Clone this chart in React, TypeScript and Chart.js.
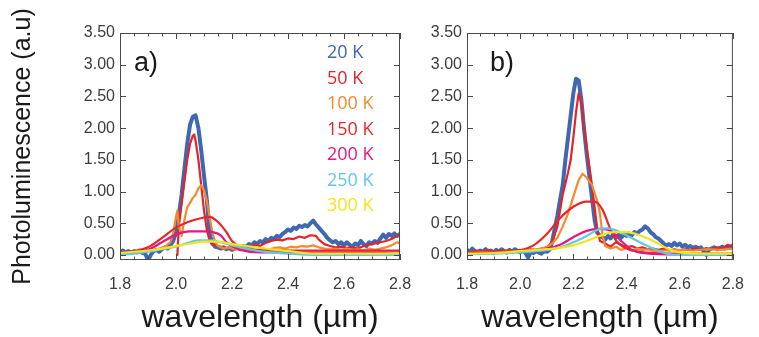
import React, { useEffect, useRef } from "react";
import { Chart, registerables } from "chart.js";
Chart.register(...registerables);

// ---------- labels / ticks ----------
const TEMPS = ["20 K", "50 K", "100 K", "150 K", "200 K", "250 K", "300 K"];
const COLORS = ["#3f67b2", "#e3242b", "#f5892f", "#e8262a", "#e6187d", "#62c7e7", "#f3e51d"];
const X_TICKS = [1.8, 2.0, 2.2, 2.4, 2.6, 2.8];
const Y_TICKS = [0, 0.5, 1.0, 1.5, 2.0, 2.5, 3.0, 3.5];
const Y_TITLE = "Photoluminescence (a.u)";
const X_TITLE = "wavelength (µm)";

// sampling grid of the measured (noisy) scans: 1.80 .. 2.80 every 0.01
const grid = (start: number, step: number, n: number) =>
  Array.from({ length: n }, (_, i) => +(start + i * step).toFixed(3));
const SCAN_WL = grid(1.8, 0.01, 101);

// ---------- panel a ----------
const A_20K = [
  0.05, 0.07, 0.04, 0.06, 0.03, 0.06, 0.04, 0.07, 0.03, 0.02,
  -0.08, 0.0, 0.06, 0.08, 0.05, 0.09, 0.12, 0.1, 0.15, 0.22,
  0.35, 0.62, 0.95, 1.35, 1.75, 2.05, 2.18, 2.2, 2.0, 1.65,
  1.25, 0.87, 0.34, 0.18, 0.13, 0.12, 0.1, 0.12, 0.09, 0.11,
  0.08, 0.1, 0.12, 0.09, 0.14, 0.12, 0.17, 0.15, 0.2, 0.17,
  0.22, 0.2, 0.25, 0.22, 0.27, 0.25, 0.3, 0.28, 0.33, 0.36,
  0.4, 0.38, 0.43, 0.41, 0.46, 0.44, 0.47, 0.45, 0.5, 0.54,
  0.48, 0.43, 0.38, 0.33, 0.27, 0.23, 0.2, 0.22, 0.17, 0.2,
  0.15, 0.2, 0.16, 0.13, 0.18, 0.15, 0.22, 0.17, 0.14, 0.2,
  0.18, 0.22, 0.19, 0.26, 0.32, 0.27, 0.33, 0.3, 0.34, 0.3,
  0.33,
];
const A_50K_WL = [
  2.005, 2.01, 2.02, 2.03, 2.04, 2.05, 2.06, 2.065, 2.07, 2.08,
  2.09, 2.1, 2.11, 2.12, 2.13, 2.15, 2.17, 2.2, 2.22, 2.24,
  2.26, 2.28, 2.3, 2.32, 2.34, 2.36, 2.38, 2.4, 2.42, 2.44,
  2.46, 2.48, 2.5, 2.51, 2.53, 2.55, 2.57, 2.59, 2.61, 2.63,
  2.65, 2.67, 2.69, 2.71, 2.73, 2.75, 2.77, 2.79, 2.8,
];
const A_50K = [
  0.0, 0.45, 0.8, 1.15, 1.5, 1.75, 1.88, 1.9, 1.8, 1.5,
  1.1, 0.7, 0.4, 0.22, 0.16, 0.14, 0.12, 0.1, 0.11, 0.09,
  0.12, 0.16, 0.14, 0.19, 0.22, 0.24, 0.23, 0.26, 0.25, 0.29,
  0.27, 0.31, 0.3, 0.24, 0.17, 0.14, 0.12, 0.13, 0.11, 0.12,
  0.1, 0.14, 0.16, 0.18, 0.2, 0.22, 0.25, 0.3, 0.32,
];
const A_100K_WL = [
  1.8, 1.82, 1.84, 1.86, 1.88, 1.9, 1.92, 1.94, 1.96, 1.98,
  1.99, 2.0, 2.005, 2.01, 2.02, 2.03, 2.04, 2.05, 2.06, 2.07,
  2.08, 2.09, 2.1, 2.11, 2.12, 2.13, 2.14, 2.15, 2.17, 2.19,
  2.21, 2.23, 2.25, 2.27, 2.29, 2.31, 2.33, 2.35, 2.37, 2.39,
  2.41, 2.43, 2.45, 2.47, 2.49, 2.51, 2.53, 2.55, 2.57, 2.59,
  2.61, 2.63, 2.65, 2.67, 2.69, 2.71, 2.73, 2.75, 2.77, 2.79,
  2.8,
];
const A_100K = [
  0.02, 0.04, 0.03, 0.05, 0.04, 0.07, 0.06, 0.1, 0.13, 0.2,
  0.35, 0.6, 0.7, 0.45, 0.3, 0.55, 0.75, 0.82, 0.9, 0.95,
  1.05, 1.1, 1.02, 0.85, 0.6, 0.35, 0.2, 0.14, 0.1, 0.12,
  0.08, 0.1, 0.07, 0.09, 0.08, 0.1, 0.08, 0.11, 0.12, 0.1,
  0.13, 0.12, 0.14, 0.13, 0.15, 0.12, 0.1, 0.09, 0.1, 0.08,
  0.1, 0.08, 0.09, 0.07, 0.1, 0.08, 0.1, 0.12, 0.15, 0.2,
  0.18,
];
const A_150K_WL = [1.8, 1.85, 1.9, 1.95, 2.0, 2.05, 2.1, 2.12, 2.15, 2.18, 2.2, 2.25, 2.3, 2.4, 2.5, 2.6, 2.7, 2.8];
const A_150K = [0.03, 0.06, 0.12, 0.27, 0.43, 0.53, 0.59, 0.6, 0.52, 0.36, 0.22, 0.1, 0.08, 0.07, 0.07, 0.07, 0.07, 0.07];
const A_200K_WL = [1.8, 1.85, 1.9, 1.95, 2.0, 2.05, 2.1, 2.13, 2.16, 2.18, 2.2, 2.23, 2.3, 2.4, 2.5, 2.6, 2.7, 2.8];
const A_200K = [0.02, 0.04, 0.08, 0.2, 0.32, 0.37, 0.37, 0.36, 0.31, 0.2, 0.14, 0.08, 0.04, 0.04, 0.04, 0.04, 0.04, 0.04];
const A_250K_WL = [1.8, 1.85, 1.9, 1.95, 2.0, 2.05, 2.08, 2.12, 2.16, 2.2, 2.25, 2.3, 2.4, 2.5, 2.6, 2.7, 2.8];
const A_250K = [0.0, 0.02, 0.05, 0.09, 0.13, 0.2, 0.23, 0.23, 0.2, 0.15, 0.1, 0.06, 0.02, 0.0, 0.0, 0.0, 0.0];
const A_300K_WL = [1.8, 1.85, 1.9, 1.95, 2.0, 2.05, 2.1, 2.15, 2.2, 2.25, 2.3, 2.4, 2.5, 2.6, 2.7, 2.8];
const A_300K = [0.03, 0.05, 0.07, 0.1, 0.14, 0.18, 0.21, 0.21, 0.17, 0.14, 0.11, 0.06, 0.02, 0.02, 0.02, 0.03];

// ---------- panel b ----------
const B_20K = [
  0.08, 0.05, 0.1, 0.06, 0.03, 0.07, 0.05, 0.09, 0.04, 0.07,
  0.03, 0.08, 0.05, 0.09, 0.06, 0.04, 0.08, 0.05, 0.09, 0.06,
  0.04, 0.07, 0.03, -0.04, 0.05, 0.03, 0.06, 0.04, 0.02, 0.06,
  0.05, 0.08, 0.2, 0.42, 0.62, 0.87, 1.1, 1.5, 1.85, 2.2,
  2.55, 2.78, 2.75, 2.45, 2.0, 1.6, 1.25, 0.9, 0.55, 0.35,
  0.3, 0.28, 0.24, 0.3, 0.26, 0.33, 0.28, 0.32, 0.27, 0.33,
  0.3, 0.34, 0.31, 0.36, 0.34, 0.38, 0.4, 0.45, 0.42, 0.36,
  0.33, 0.28, 0.26, 0.22, 0.18, 0.15, 0.17, 0.14, 0.19, 0.15,
  0.18, 0.13, 0.16, 0.12, 0.14, 0.11, 0.13, 0.1, 0.12, 0.06,
  0.0, 0.08, 0.1, 0.12, 0.09, 0.11, 0.13, 0.1, 0.14, 0.12,
  0.15,
];
const B_50K_WL = [
  1.8, 1.82, 1.84, 1.86, 1.88, 1.9, 1.92, 1.94, 1.96, 1.98,
  2.0, 2.02, 2.04, 2.06, 2.08, 2.1, 2.12, 2.14, 2.16, 2.18,
  2.19, 2.2, 2.21, 2.22, 2.23, 2.24, 2.25, 2.26, 2.27, 2.28,
  2.29, 2.3, 2.32, 2.34, 2.36, 2.38, 2.4, 2.42, 2.44, 2.46,
  2.48, 2.5, 2.52, 2.54, 2.56, 2.58, 2.6, 2.62, 2.64, 2.66,
  2.68, 2.7, 2.72, 2.74, 2.76, 2.78, 2.8,
];
const B_50K = [
  0.06, 0.04, 0.07, 0.05, 0.08, 0.05, 0.07, 0.06, 0.08, 0.06,
  0.08, 0.07, 0.09, 0.08, 0.1, 0.12, 0.2, 0.45, 0.95, 1.3,
  1.5, 1.85, 2.25, 2.55, 2.4, 2.0, 1.7, 1.4, 1.1, 0.75,
  0.4, 0.22, 0.18, 0.13, 0.2, 0.16, 0.12, 0.14, 0.1, 0.12,
  0.09, 0.1, 0.08, 0.1, 0.07, 0.09, 0.07, 0.09, 0.08, 0.1,
  0.08, 0.11, 0.09, 0.12, 0.1, 0.16, 0.13,
];
const B_100K_WL = [
  1.8, 1.85, 1.9, 1.95, 2.0, 2.05, 2.08, 2.1, 2.12, 2.14,
  2.16, 2.18, 2.2, 2.22, 2.235, 2.25, 2.27, 2.29, 2.3, 2.31,
  2.32, 2.34, 2.36, 2.38, 2.4, 2.42, 2.44, 2.46, 2.48, 2.5,
  2.55, 2.6, 2.65, 2.7, 2.75, 2.8,
];
const B_100K = [
  0.03, 0.04, 0.04, 0.05, 0.06, 0.08, 0.1, 0.12, 0.18, 0.27,
  0.45, 0.65, 0.92, 1.18, 1.28, 1.22, 1.1, 0.85, 0.65, 0.3,
  0.14, 0.1, 0.13, 0.08, 0.11, 0.07, 0.1, 0.08, 0.09, 0.06,
  0.07, 0.08, 0.07, 0.09, 0.08, 0.1,
];
const B_150K_WL = [1.8, 1.9, 2.0, 2.05, 2.1, 2.15, 2.2, 2.25, 2.28, 2.31, 2.335, 2.36, 2.4, 2.45, 2.5, 2.6, 2.8];
const B_150K = [0.03, 0.04, 0.07, 0.15, 0.33, 0.58, 0.76, 0.84, 0.84, 0.71, 0.45, 0.23, 0.1, 0.05, 0.03, 0.02, 0.02];
const B_200K_WL = [1.8, 1.9, 2.0, 2.1, 2.15, 2.2, 2.25, 2.3, 2.34, 2.38, 2.42, 2.46, 2.55, 2.8];
const B_200K = [0.02, 0.03, 0.05, 0.1, 0.16, 0.28, 0.38, 0.41, 0.38, 0.22, 0.08, 0.03, 0.01, 0.01];
const B_250K_WL = [1.8, 1.9, 2.0, 2.1, 2.15, 2.2, 2.25, 2.3, 2.33, 2.36, 2.4, 2.45, 2.5, 2.55, 2.6, 2.8];
const B_250K = [0.01, 0.02, 0.04, 0.08, 0.12, 0.2, 0.3, 0.41, 0.42, 0.39, 0.31, 0.2, 0.1, 0.02, 0.0, 0.0];
const B_300K_WL = [1.8, 1.9, 2.0, 2.1, 2.15, 2.2, 2.25, 2.3, 2.35, 2.4, 2.45, 2.5, 2.55, 2.6, 2.7, 2.8];
const B_300K = [0.02, 0.03, 0.06, 0.09, 0.11, 0.15, 0.22, 0.3, 0.36, 0.36, 0.31, 0.22, 0.11, 0.04, 0.02, 0.02];

type Series = { wl: number[]; pl: number[]; smooth: boolean };
const PANEL_A: Series[] = [
  { wl: SCAN_WL, pl: A_20K, smooth: false },
  { wl: A_50K_WL, pl: A_50K, smooth: false },
  { wl: A_100K_WL, pl: A_100K, smooth: false },
  { wl: A_150K_WL, pl: A_150K, smooth: true },
  { wl: A_200K_WL, pl: A_200K, smooth: true },
  { wl: A_250K_WL, pl: A_250K, smooth: true },
  { wl: A_300K_WL, pl: A_300K, smooth: true },
];
const PANEL_B: Series[] = [
  { wl: SCAN_WL, pl: B_20K, smooth: false },
  { wl: B_50K_WL, pl: B_50K, smooth: false },
  { wl: B_100K_WL, pl: B_100K, smooth: false },
  { wl: B_150K_WL, pl: B_150K, smooth: true },
  { wl: B_200K_WL, pl: B_200K, smooth: true },
  { wl: B_250K_WL, pl: B_250K, smooth: true },
  { wl: B_300K_WL, pl: B_300K, smooth: true },
];

const TICK_FONT = { family: '"Liberation Sans", Arial, sans-serif', size: 16 };
const TITLE_FAMILY = '"Liberation Sans", Arial, sans-serif';

type PanelProps = {
  series: Series[];
  letter: string;
  letterDx: number;
  left: number;
  width: number;
  yAxisWidth: number;
  padRight: number;
  showYTitle: boolean;
  showLegend: boolean;
};

function Panel(props: PanelProps) {
  const ref = useRef<HTMLCanvasElement>(null);
  useEffect(() => {
    const { series, letter, letterDx, yAxisWidth, padRight, showYTitle, showLegend } = props;

    const framePlugin = {
      id: "frameTicks",
      afterDatasetsDraw(chart: any) {
        const { ctx, chartArea: a, scales } = chart;
        const xs = scales.x;
        const ys = scales.y;
        ctx.save();
        ctx.strokeStyle = "#4a4a4a";
        ctx.lineWidth = 1;
        ctx.strokeRect(a.left + 0.5, a.top + 0.5, a.right - a.left - 1, a.bottom - a.top - 1);
        ctx.beginPath();
        for (let i = 0; i <= 20; i++) {
          const v = xs.min + i * 0.05;
          const major = X_TICKS.some((t) => Math.abs(t - v) < 1e-6);
          const len = major ? 6 : 3.5;
          const px = Math.round(xs.getPixelForValue(v)) + 0.5;
          ctx.moveTo(px, a.bottom);
          ctx.lineTo(px, a.bottom - len);
          ctx.moveTo(px, a.top);
          ctx.lineTo(px, a.top + len);
        }
        for (const v of Y_TICKS) {
          const py = Math.round(ys.getPixelForValue(v)) + 0.5;
          ctx.moveTo(a.left, py);
          ctx.lineTo(a.left + 6, py);
          ctx.moveTo(a.right, py);
          ctx.lineTo(a.right - 6, py);
        }
        ctx.stroke();
        ctx.restore();
      },
    };

    const textPlugin = {
      id: "panelText",
      afterDraw(chart: any) {
        const { ctx, chartArea: a } = chart;
        ctx.save();
        ctx.fillStyle = "#1a1a1a";
        ctx.font = '27px "Liberation Sans", Arial, sans-serif';
        ctx.textBaseline = "alphabetic";
        ctx.textAlign = "left";
        ctx.fillText(letter, a.left + letterDx, a.top + 38);
        if (showLegend) {
          ctx.font = '18px "Open Sans", "Noto Sans", sans-serif';
          ctx.textBaseline = "middle";
          chart.data.datasets.forEach((ds: any, i: number) => {
            ctx.fillStyle = ds.borderColor;
            ctx.fillText(ds.label, a.left + 207, a.top + 20 + i * 25.5);
          });
        }
        ctx.restore();
      },
    };

    const chart = new Chart(ref.current as HTMLCanvasElement, {
      type: "line",
      data: {
        datasets: series.map((s, i) => ({
          label: TEMPS[i],
          data: s.wl.map((x, j) => ({ x, y: s.pl[j] })),
          borderColor: COLORS[i],
          backgroundColor: COLORS[i],
          borderWidth: i === 0 ? 4 : 2.2,
          pointRadius: 0,
          fill: false,
          cubicInterpolationMode: s.smooth ? "monotone" : "default",
          tension: 0,
          borderJoinStyle: "round",
          borderCapStyle: "round",
          order: 10 - i,
        })),
      },
      options: {
        responsive: false,
        animation: false,
        devicePixelRatio: 1,
        layout: { padding: { left: 0, right: padRight, top: 33, bottom: 0 } },
        plugins: { legend: { display: false }, tooltip: { enabled: false } },
        scales: {
          x: {
            type: "linear",
            min: 1.8,
            max: 2.8,
            afterBuildTicks: (s: any) => {
              s.ticks = X_TICKS.map((v) => ({ value: v }));
            },
            ticks: {
              padding: 15,
              font: TICK_FONT,
              color: "#3c3c3c",
              maxRotation: 0,
              autoSkip: false,
              callback: (v: any) => Number(v).toFixed(1),
            },
            grid: { display: false, drawTicks: false },
            border: { display: false },
            title: {
              display: true,
              text: X_TITLE,
              font: { family: TITLE_FAMILY, size: 32 },
              color: "#1a1a1a",
              padding: { top: 0, bottom: 0 },
            },
            afterFit: (s: any) => {
              s.height = 77;
            },
          },
          y: {
            type: "linear",
            min: -0.08,
            max: 3.5,
            afterBuildTicks: (s: any) => {
              s.ticks = Y_TICKS.map((v) => ({ value: v }));
            },
            ticks: {
              padding: 5,
              font: TICK_FONT,
              color: "#3c3c3c",
              autoSkip: false,
              callback: (v: any) => Number(v).toFixed(2),
            },
            grid: { display: false, drawTicks: false },
            border: { display: false },
            title: {
              display: showYTitle,
              text: Y_TITLE,
              font: { family: TITLE_FAMILY, size: 25 },
              color: "#1a1a1a",
              padding: { top: 8, bottom: 0 },
            },
            afterFit: (s: any) => {
              s.width = yAxisWidth;
            },
          },
        },
      } as any,
      plugins: [framePlugin, textPlugin],
    });
    return () => chart.destroy();
  }, []);
  return (
    <canvas
      ref={ref}
      width={props.width}
      height={337}
      style={{ position: "absolute", left: props.left, top: 0, width: props.width, height: 337, display: "block" }}
    />
  );
}

export default function App() {
  return (
    <div style={{ position: "absolute", left: 0, top: 0, width: 759, height: 337, background: "#ffffff", overflow: "hidden" }}>
      <Panel series={PANEL_A} letter="a)" letterDx={14} left={0} width={430} yAxisWidth={120} padRight={30} showYTitle={true} showLegend={true} />
      <Panel series={PANEL_B} letter="b)" letterDx={23} left={400} width={359} yAxisWidth={67} padRight={12} showYTitle={false} showLegend={false} />
    </div>
  );
}
